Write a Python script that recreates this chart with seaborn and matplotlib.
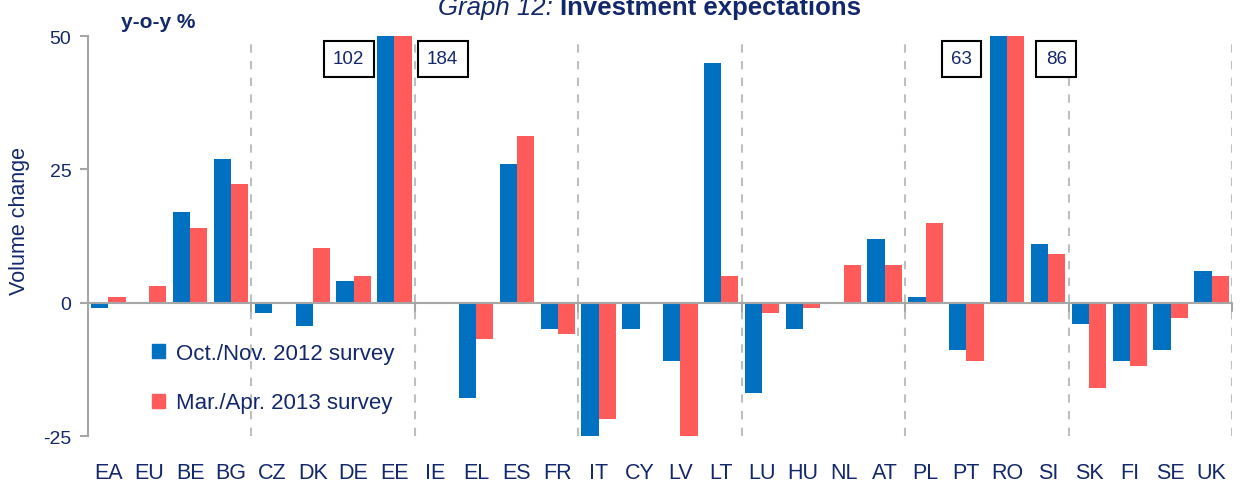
import matplotlib
matplotlib.use("Agg")
import matplotlib.pyplot as plt
import seaborn as sns
import pandas as pd
from matplotlib.patches import Patch

categories = ["EA", "EU", "BE", "BG", "CZ", "DK", "DE", "EE", "IE", "EL", "ES", "FR",
              "IT", "CY", "LV", "LT", "LU", "HU", "NL", "AT", "PL", "PT", "RO", "SI",
              "SK", "FI", "SE", "UK"]
oct_nov_2012 = [-1, 0, 17, 27, -2, -4.3, 4, 102, 0, -17.8, 26, -5,
                -26, -5, -11, 45, -17, -5, 0, 12, 1, -8.8, 63, 11,
                -4, -11, -8.8, 6]
mar_apr_2013 = [1, 3.2, 14, 22.3, 0, 10.3, 5, 184, 0, -6.9, 31.3, -5.8,
                -21.9, 0, -26, 5, -2, -1, 7, 7, 15, -11, 86, 9.2,
                -16, -11.8, -2.8, 5]
series_names = ["Oct./Nov. 2012 survey", "Mar./Apr. 2013 survey"]
offscale_labels = [("EE", "102", -1.12), ("EE", "184", 1.18),
                   ("RO", "63", -1.12), ("RO", "86", 1.2)]
group_size = 4

NAVY = "#13286B"
BLUE = "#0070C0"
RED = "#FF5B5B"

sns.set_theme(style="white")
plt.rcParams["font.family"] = ["Liberation Sans", "DejaVu Sans"]

df = pd.DataFrame({
    "country": categories * 2,
    "value": oct_nov_2012 + mar_apr_2013,
    "survey": [series_names[0]] * len(categories) + [series_names[1]] * len(categories),
})

fig = plt.figure(figsize=(12.44, 4.89), dpi=100)
ax = fig.add_axes([0.0707, 0.1063, 0.9196, 0.818])

sns.barplot(data=df, x="country", y="value", hue="survey", order=categories,
            hue_order=series_names, palette=[BLUE, RED], width=0.84,
            saturation=1, legend=False, ax=ax, edgecolor="none")

ax.set_ylim(-25, 50)
ax.set_xlim(-0.5, len(categories) - 0.5)
ax.set_yticks([-25, 0, 25, 50])
ax.set_yticklabels(["-25", "0", "25", "50"])

for s in ["top", "right", "bottom"]:
    ax.spines[s].set_visible(False)
ax.spines["left"].set_color("#A6A6A6")
ax.spines["left"].set_linewidth(1.5)
ax.tick_params(axis="y", which="both", left=True, length=6, width=1.5, color="#A6A6A6",
               labelsize=14, labelcolor=NAVY, pad=6)
ax.tick_params(axis="x", bottom=False, labelcolor=NAVY, labelsize=15.5, pad=13)
ax.set_xlabel("")
ax.set_ylabel("Volume change", fontsize=15.5, color=NAVY)
ax.yaxis.set_label_coords(-0.051, 0.54)

ax.axhline(0, color="#A6A6A6", lw=1.5, zorder=3)

# group separators
for k in range(group_size, len(categories) + 1, group_size):
    xpos = k - 0.5
    ax.axvline(xpos, color="#BFBFBF", lw=1.5, ls=(0, (4, 4)), zorder=0)
    ax.plot([xpos, xpos], [-1.6, 0], color="#A6A6A6", lw=1.5, zorder=3, clip_on=False)

# off-scale value boxes
for cat, txt, dx in offscale_labels:
    xi = categories.index(cat) + dx
    ax.text(xi, 45.7, txt, ha="center", va="center", fontsize=13.5, color=NAVY,
            bbox=dict(boxstyle="square,pad=0.5", fc="white", ec="black", lw=1.5), zorder=5)

handles = [Patch(color=BLUE), Patch(color=RED)]
leg = ax.legend(handles, series_names, loc="center left", bbox_to_anchor=(0.056, 0.145),
                frameon=False, fontsize=16, handlelength=0.6, handleheight=0.6,
                labelspacing=1.3, handletextpad=0.5, borderpad=0, borderaxespad=0)
for t in leg.get_texts():
    t.set_color(NAVY)

fig.text(0.097, 0.953, "y-o-y %", fontsize=15, fontweight="bold", color=NAVY,
         ha="left", va="center")
fig.text(0.352, 0.969, "Graph 12: ", fontsize=18.5, style="italic", color=NAVY,
         ha="left", va="baseline")
fig.text(0.450, 0.969, "Investment expectations", fontsize=18.5, fontweight="bold",
         color=NAVY, ha="left", va="baseline")

fig.savefig("out.png", dpi=100)
